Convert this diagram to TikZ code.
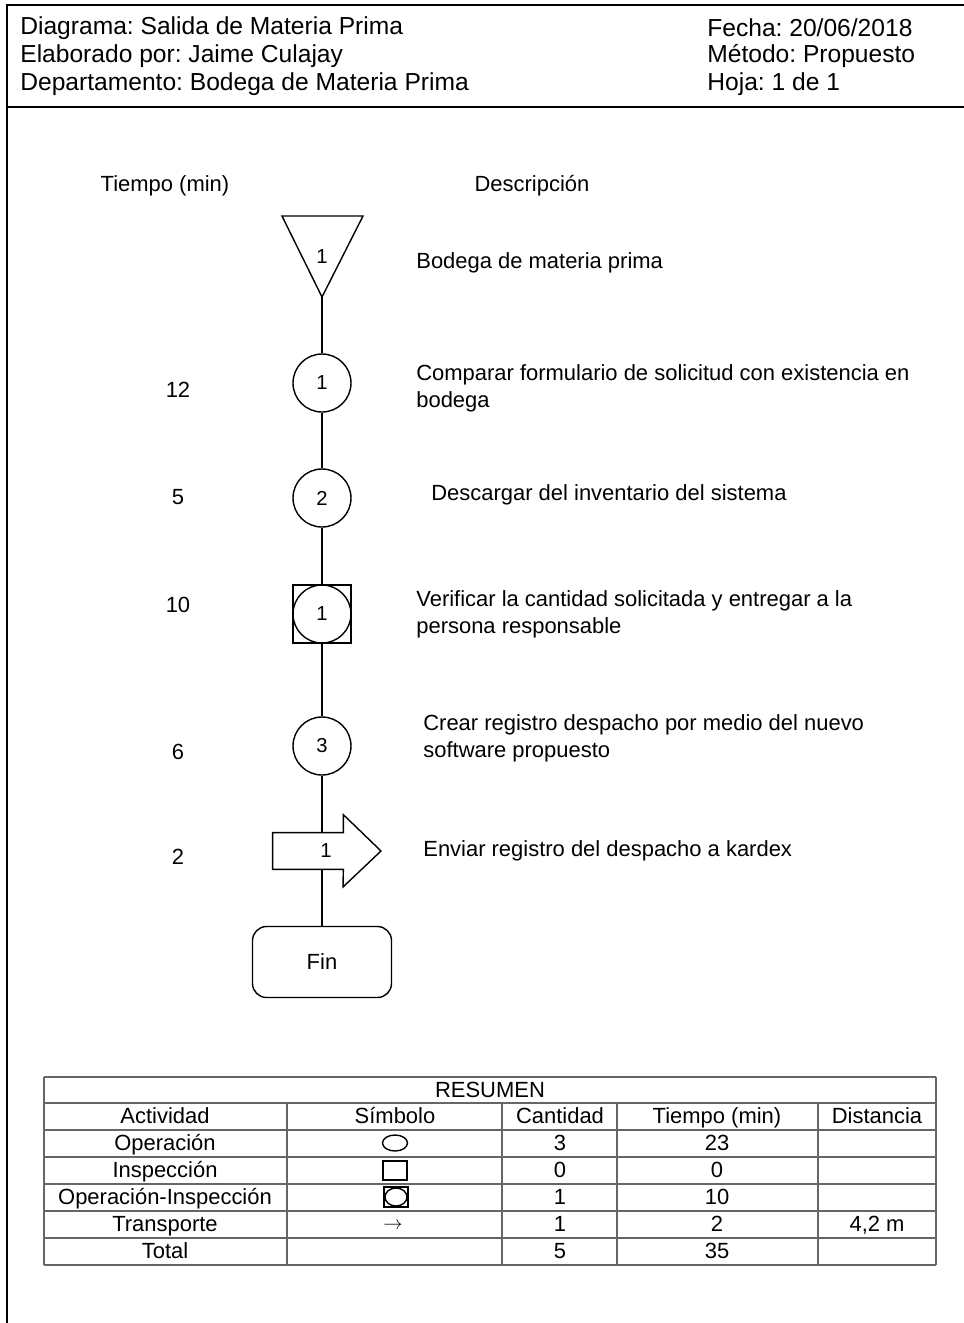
\documentclass[tikz,border=0pt]{standalone}
\usepackage{fontspec}
\setmainfont{Liberation Sans}
\usetikzlibrary{positioning,shapes}
\frenchspacing
\begin{document}
\begin{tikzpicture}[x=0.02cm,y=-0.02cm]
                    \tikzstyle{every node}+=[inner sep=0pt,font=\fontsize{12.5}{15.3}\selectfont]
                    \tikzstyle{sym}=[draw,line width=0.8pt,minimum size=1.16cm,font=\fontsize{11.5}{13}\selectfont]
                    \tikzstyle{desc}=[anchor=west,align=left]
                    \tikzstyle{hdr}=[anchor=west,font=\fontsize{14}{16}\selectfont]
                    \tikzstyle{cell}=[anchor=base,yshift=-7*0.02cm]
                    \tikzstyle{tline}=[gray!80!black,line width=0.6pt]
                    \useasboundingbox (0,0) rectangle (964,1323);
                    \draw [line width=0.8pt] (964,5) -- (7,5) -- (7,1323);
                    \draw [line width=0.8pt] (7,107) -- (964,107);
                    \node [hdr] (dia) at (20,28) {Diagrama: Salida de Materia Prima};
                    \node [hdr] (ela) at (20,56) {Elaborado por: Jaime Culajay};
                    \node [hdr] (dep) at (20,84) {Departamento: Bodega de Materia Prima};
                    \node [hdr] (fec) at (707,28) {Fecha: 20/06/2018};
                    \node [hdr] (met) at (707,56) {Método: Propuesto};
                    \node [hdr] (hoj) at (707,84) {Hoja: 1 de 1};
                    \node (tiempo) at (165,186) {Tiempo (min)};
                    \node (descr) at (532,186) {Descripción};
                    \draw [line width=0.8pt] (282,216) -- (363,216) -- (322,297) -- cycle;
                    \node [font=\fontsize{11.5}{13}\selectfont] (alm) at (322,257) {1};
                    \coordinate (almB) at (322,297);
                    \node [sym,circle] (op1) at (322,383) {1};
                    \node [sym,circle] (op2) at (322,498) {2};
                    \node [sym,rectangle] (opi) at (322,614) {1};
                    \node [sym,circle] (opiC) at (opi) {};
                    \node [sym,circle] (op3) at (322,746) {3};
                    \node [minimum width=1.4cm,minimum height=0.72cm] (tra) at (308,851) {};
                    \node [font=\fontsize{11.5}{13}\selectfont] (traN) at (326,851) {1};
                    \draw [line width=0.8pt] (tra.north east) -- ++(0,-18) -- (381,851) -- (343,887) -- (tra.south east) -- (tra.south west) -- (tra.north west) -- cycle;
                    \node [draw,line width=0.8pt,rounded corners=0.28cm,minimum width=2.78cm,minimum height=1.42cm] (fin) at (322,962) {Fin};
                    \draw [line width=0.8pt] (almB) -- (op1);
                    \draw [line width=0.8pt] (op1) -- (op2);
                    \draw [line width=0.8pt] (op2) -- (opi);
                    \draw [line width=0.8pt] (opi) -- (op3);
                    \draw [line width=0.8pt] (op3) -- (op3 |- tra.north);
                    \draw [line width=0.8pt] (op3 |- tra.south) -- (fin);
                    \node [desc] (d0) at (416,263) {Bodega de materia prima};
                    \node [desc] (d1) at (416,388) {Comparar formulario de solicitud con existencia en\\bodega};
                    \node [desc] (d2) at (431,495) {Descargar del inventario del sistema};
                    \node [desc] (d3) at (416,614) {Verificar la cantidad solicitada y entregar a la\\persona responsable};
                    \node [desc] (d4) at (423,738) {Crear registro despacho por medio del nuevo\\software propuesto};
                    \node [desc] (d5) at (423,851) {Enviar registro del despacho a kardex};
                    \node (t1) at (178,390) {12};
                    \node (t2) at (178,497) {5};
                    \node (t3) at (178,605) {10};
                    \node (t4) at (178,752) {6};
                    \node (t5) at (178,857) {2};
                    \foreach \y in {1077,1103,1130,1157,1184,1211,1238,1265}
                        \draw [tline] (44,\y) -- (936,\y);
                    \draw [tline] (44,1077) -- (44,1265);
                    \draw [tline] (936,1077) -- (936,1265);
                    \foreach \x in {287,502,617,818}
                        \draw [tline] (\x,1103) -- (\x,1265);
                    \node [cell] (res) at (490,1090) {RESUMEN};
                    \node [cell] (hAct) at (165,1116) {Actividad};
                    \node [cell] (hSim) at (395,1116) {Símbolo};
                    \node [cell] (hCan) at (560,1116) {Cantidad};
                    \node [cell] (hTie) at (717,1116) {Tiempo (min)};
                    \node [cell] (hDis) at (877,1116) {Distancia};
                    \foreach \y/\a/\c/\t/\d in {1143/Operación/3/23/,1170/Inspección/0/0/,1197/Operación-Inspección/1/10/,1224/Transporte/1/2/{4,2 m},1251/Total/5/35/}
                    {
                        \node [cell] at (165,\y) {\a};
                        \node [cell] at (560,\y) {\c};
                        \node [cell] at (717,\y) {\t};
                        \node [cell] at (877,\y) {\d};
                    }
                    \draw [line width=0.8pt] (395,1143) ellipse (12.5 and 8);
                    \draw [line width=0.8pt] (383,1161) rectangle (407,1180);
                    \draw [line width=0.8pt] (384,1187) rectangle (408,1207);
                    \draw [line width=0.8pt] (396,1197) ellipse (11 and 9);
                    \node [font=\fontsize{11}{12}\selectfont] (trs) at (393,1226) {$\rightarrow$};
                \end{tikzpicture}
\end{document}
